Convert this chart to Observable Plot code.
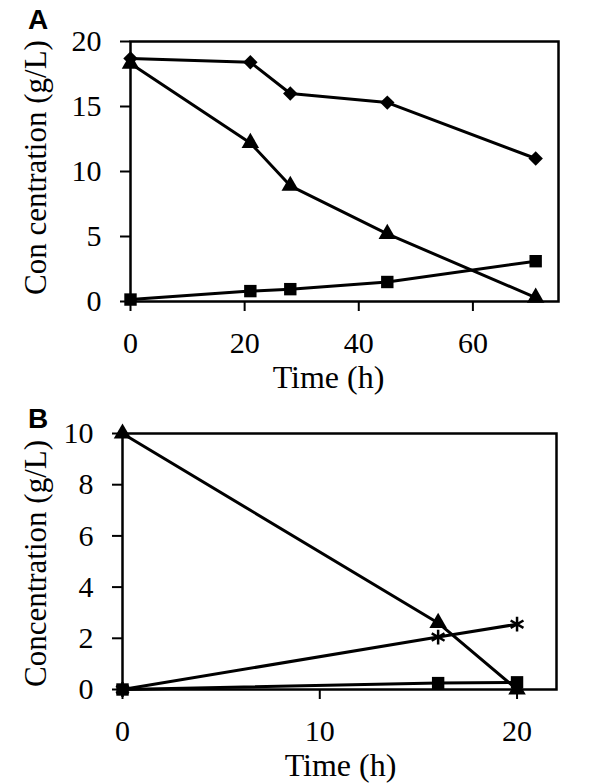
<!DOCTYPE html>
<html><head><meta charset="utf-8">
<script src="https://cdn.jsdelivr.net/npm/d3@7"></script>
<script src="https://cdn.jsdelivr.net/npm/@observablehq/plot@0.6"></script>
<style>body{margin:0;background:#fff;} #chart svg{display:block;overflow:visible;}</style>
</head><body><div id="chart"></div>
<script>
// Panel A data
const timeA = [0, 21, 28, 45, 71];
const diamondA = [18.7, 18.4, 16.0, 15.3, 11.0];
const triangleA = [18.3, 12.2, 8.9, 5.2, 0.3];
const squareA = [0.15, 0.8, 0.95, 1.5, 3.1];
const xTicksA = [0, 20, 40, 60];
const yTicksA = [0, 5, 10, 15, 20];
// Panel B data
const timeB = [0, 16, 20];
const triangleB = [10, 2.6, 0];
const asteriskB = [0, 2.05, 2.55];
const squareB = [0, 0.25, 0.28];
const xTicksB = [0, 10, 20];
const yTicksB = [0, 2, 4, 6, 8, 10];

const SERIF = "Liberation Serif";
const rows = (t, v) => t.map((x, i) => ({t: x, v: v[i]}));

function seriesMarks(data, symbol, r) {
  const dot = symbol === "asterisk"
    ? Plot.dot(data, {x: "t", y: "v", symbol, r, stroke: "black", strokeWidth: 2.5, fill: "none"})
    : Plot.dot(data, {x: "t", y: "v", symbol, r, fill: "black", stroke: "none"});
  return [Plot.line(data, {x: "t", y: "v", stroke: "black", strokeWidth: 3}), dot];
}

function panel({letter, yTitle, xDomain, yDomain, xTicks, yTicks, series, height, mt, mb, ml, mr, letterPos, yTitlePos, xTitlePos}) {
  return Plot.plot({
    width: 591, height,
    marginTop: mt, marginBottom: mb, marginLeft: ml, marginRight: mr,
    style: {fontFamily: SERIF, color: "black", background: "white", overflow: "visible"},
    x: {domain: xDomain},
    y: {domain: yDomain},
    marks: [
      Plot.axisX({ticks: xTicks, tickSize: 10, tickFormat: () => "", strokeWidth: 2, label: null}),
      Plot.axisY({ticks: yTicks, tickSize: 10, tickFormat: () => "", strokeWidth: 2, label: null}),
      Plot.text(xTicks, {x: d => d, y: () => yDomain[0], text: d => String(d), dy: 30, lineAnchor: "top",
        textAnchor: "middle", fontFamily: SERIF, fontSize: 30, fill: "black"}),
      Plot.text(yTicks, {x: () => xDomain[0], y: d => d, text: d => String(d), dx: -29, lineAnchor: "middle",
        textAnchor: "end", fontFamily: SERIF, fontSize: 30, fill: "black"}),
      ...series.flatMap(([d, s, r]) => seriesMarks(d, s, r)),
      Plot.frame({stroke: "black", strokeWidth: 2.5}),
      Plot.text([letter], {text: d => d, frameAnchor: "top-left", dx: letterPos[0] - ml, dy: letterPos[1] - mt,
        fontFamily: "Liberation Sans", fontWeight: "bold", fontSize: 28, textAnchor: "middle", lineAnchor: "bottom"}),
      Plot.text([yTitle], {text: d => d, frameAnchor: "top-left", dx: yTitlePos[0] - ml, dy: yTitlePos[1] - mt,
        rotate: -90, fontFamily: SERIF, fontSize: 31, textAnchor: "middle", lineAnchor: "bottom"}),
      Plot.text(["Time (h)"], {text: d => d, frameAnchor: "top-left", dx: xTitlePos[0] - ml, dy: xTitlePos[1] - mt,
        fontFamily: SERIF, fontSize: 32, textAnchor: "middle", lineAnchor: "bottom"})
    ]
  });
}

const A = panel({
  letter: "A", yTitle: "Con centration (g/L)",
  xDomain: [0, 75], yDomain: [0, 20], xTicks: xTicksA, yTicks: yTicksA,
  series: [
    [rows(timeA, diamondA), "diamond2", 6.5],
    [rows(timeA, triangleA), "triangle", 6.5],
    [rows(timeA, squareA), "square", 7]
  ],
  height: 398, mt: 41, mb: 97, ml: 130, mr: 33,
  letterPos: [37.5, 28], yTitlePos: [45, 167], xTitlePos: [328, 387]
});

const B = panel({
  letter: "B", yTitle: "Concentration (g/L)",
  xDomain: [0, 22], yDomain: [0, 10], xTicks: xTicksB, yTicks: yTicksB,
  series: [
    [rows(timeB, triangleB), "triangle", 6.5],
    [rows(timeB, asteriskB), "asterisk", 7],
    [rows(timeB, squareB), "square", 7]
  ],
  height: 385, mt: 35, mb: 94, ml: 122, mr: 35,
  letterPos: [37.5, 29], yTitlePos: [45, 165], xTitlePos: [340, 377]
});

document.getElementById("chart").append(A, B);
</script>
</body></html>
